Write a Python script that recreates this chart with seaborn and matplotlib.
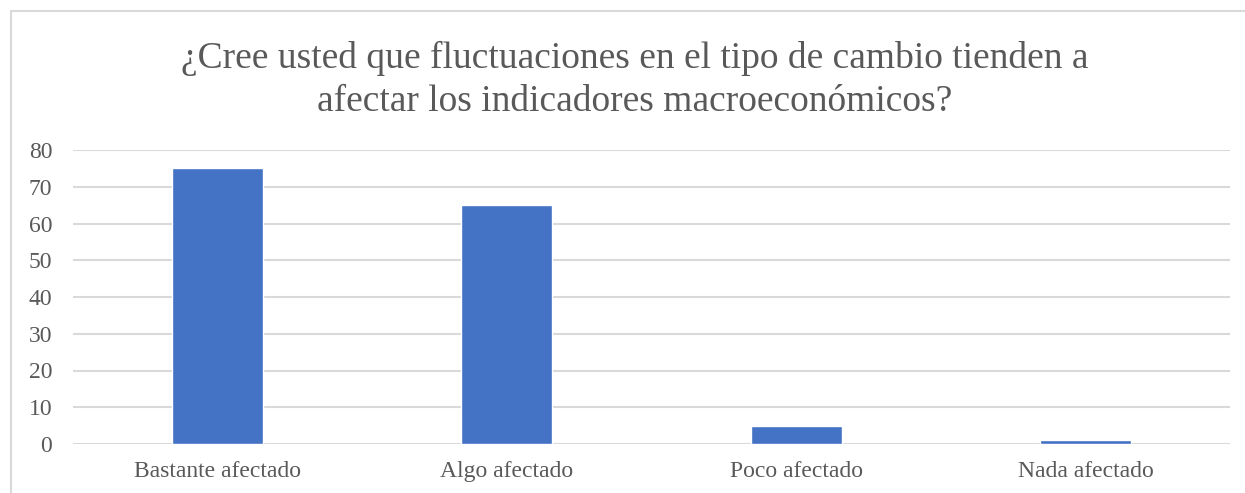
import matplotlib
matplotlib.use("Agg")
import matplotlib.pyplot as plt
import seaborn as sns
import pandas as pd
from matplotlib.patches import Rectangle

# Datos de la encuesta
categorias = ["Bastante afectado", "Algo afectado", "Poco afectado", "Nada afectado"]
valores = [75, 65, 5, 1]
ticks_y = [0, 10, 20, 30, 40, 50, 60, 70, 80]
titulo = "¿Cree usted que fluctuaciones en el tipo de cambio tienden a\nafectar los indicadores macroeconómicos?"

sns.set_theme(style="white")
plt.rcParams['font.family'] = ['Liberation Serif', 'DejaVu Serif']

texto = "#595959"
grid = "#D9D9D9"
azul = "#4472C4"

df = pd.DataFrame({"categoria": categorias, "valor": valores})

fig = plt.figure(figsize=(12.45, 4.93), dpi=100)
ax = fig.add_axes([73 / 1245, 1 - 444 / 493, (1230 - 73) / 1245, (444 - 150) / 493])

sns.barplot(data=df, x="categoria", y="valor", color=azul, width=0.315,
            saturation=1, ax=ax, zorder=3)

ax.set_ylim(0, 80)
ax.set_yticks(ticks_y)
ax.set_xlim(-0.5, len(categorias) - 0.5)
ax.yaxis.grid(True, color=grid, linewidth=1.5, zorder=0)
ax.set_axisbelow(True)
for s in ax.spines.values():
    s.set_visible(False)
ax.tick_params(axis="both", length=0, labelsize=17, labelcolor=texto)
ax.tick_params(axis="y", pad=15)
ax.tick_params(axis="x", pad=12)
ax.set_xlabel("")
ax.set_ylabel("")

fig.text(635 / 1245, 1 - 80 / 493, titulo, ha="center", va="center",
         fontsize=27, color=texto, linespacing=1.35)

# marco del gráfico
fig.patches.append(Rectangle((11 / 1245, -0.05), 1.2, 1 - 11 / 493 + 0.05,
                             transform=fig.transFigure, fill=False,
                             edgecolor=grid, linewidth=1.5))

fig.savefig("out.png", dpi=100)
